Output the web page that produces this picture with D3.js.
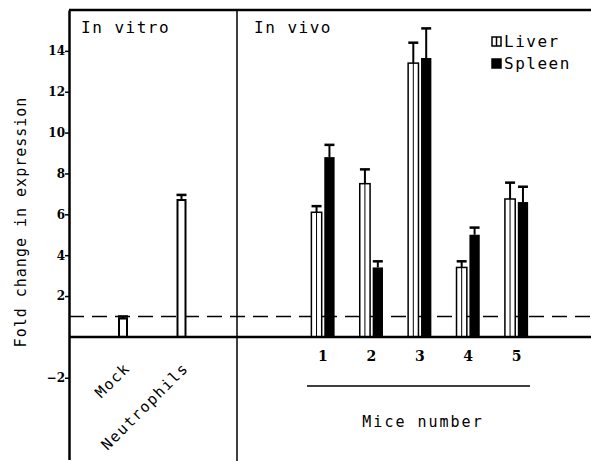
<!DOCTYPE html>
<html>
<head>
<meta charset="utf-8">
<script src="https://cdn.jsdelivr.net/npm/d3@7"></script>
<style>
body{margin:0;background:#fff;}
text{font-family:"DejaVu Sans Mono",monospace;}
</style>
</head>
<body>
<div id="chart"></div>
<script>
// values
var vitroCats = ["Mock", "Neutrophils"];
var vitroVals = [0.9, 6.7];
var vitroErr = [0.1, 0.25];

var mice = ["1", "2", "3", "4", "5"];
var liverVals = [6.1, 7.5, 13.4, 3.4, 6.75];
var liverErr = [0.3, 0.7, 1.0, 0.3, 0.8];
var spleenVals = [8.8, 3.4, 13.65, 5.0, 6.6];
var spleenErr = [0.6, 0.3, 1.45, 0.35, 0.75];

var yTicks = [14, 12, 10, 8, 6, 4, 2, -2];

function init(){
    var w = 591, h = 461;
    var svg = d3.select("#chart").append("svg")
                .attr("width", w).attr("height", h);

    var y = d3.scaleLinear().domain([-6, 16]).range([459.5, 10]);
    var axisX = 69, divX = 237;

    // in vitro x (bar centres)
    var xVitro = d3.scalePoint().domain(vitroCats).range([123, 181.5]);
    // in vivo x
    var xVivo = d3.scaleBand().domain(mice).range([298.8, 540.7])
                    .paddingInner(0.52).paddingOuter(0.26);
    var xSub = d3.scaleBand().domain(["liver", "spleen"]).range([0, xVivo.bandwidth()]).paddingInner(0.2);

    // dashed baseline at 1
    svg.append("line")
        .attr("x1", axisX).attr("x2", w)
        .attr("y1", y(1)).attr("y2", y(1))
        .attr("stroke", "#000").attr("stroke-width", 1.3)
        .attr("stroke-dasharray", "15,8");

    // vitro bars
    svg.selectAll(".vb").data(vitroVals).enter().append("rect")
        .attr("x", (d,i)=>xVitro(vitroCats[i]) - 4)
        .attr("width", 8)
        .attr("y", d=>y(d))
        .attr("height", d=>y(0)-y(d))
        .attr("fill", "#fff").attr("stroke", "#000").attr("stroke-width", 2);

    function errBar(cx, v, e){
        svg.append("line").attr("x1", cx).attr("x2", cx)
            .attr("y1", y(v)).attr("y2", y(v+e))
            .attr("stroke", "#000").attr("stroke-width", 2);
        svg.append("line").attr("x1", cx-5).attr("x2", cx+5)
            .attr("y1", y(v+e)).attr("y2", y(v+e))
            .attr("stroke", "#000").attr("stroke-width", 2.5);
    }
    vitroVals.forEach((v,i)=>errBar(xVitro(vitroCats[i]), v, vitroErr[i]));

    mice.forEach((m,i)=>{
        // liver bars (white, hatched)
        var x0 = xVivo(m) + xSub("liver");
        var bw = xSub.bandwidth();
        svg.append("rect")
            .attr("x", x0).attr("width", bw)
            .attr("y", y(liverVals[i])).attr("height", y(0)-y(liverVals[i]))
            .attr("fill", "#fff").attr("stroke", "#000").attr("stroke-width", 1.5);
        svg.append("line")
            .attr("x1", x0 + bw/2).attr("x2", x0 + bw/2)
            .attr("y1", y(liverVals[i])).attr("y2", y(0))
            .attr("stroke", "#000").attr("stroke-width", 1);
        errBar(x0 + bw/2, liverVals[i], liverErr[i]);

        // spleen bars (black)
        var x1 = xVivo(m) + xSub("spleen");
        svg.append("rect")
            .attr("x", x1).attr("width", xSub.bandwidth())
            .attr("y", y(spleenVals[i])).attr("height", y(0)-y(spleenVals[i]))
            .attr("fill", "#000");
        errBar(x1 + xSub.bandwidth()/2, spleenVals[i], spleenErr[i]);
    });

    // zero line
    svg.append("line")
        .attr("x1", axisX).attr("x2", w)
        .attr("y1", y(0)).attr("y2", y(0))
        .attr("stroke", "#000").attr("stroke-width", 2.5);

    // frame lines
    svg.append("line").attr("x1", axisX).attr("x2", w)
        .attr("y1", 10).attr("y2", 10)
        .attr("stroke", "#000").attr("stroke-width", 2.5);
    svg.append("line").attr("x1", divX).attr("x2", divX)
        .attr("y1", 10).attr("y2", h)
        .attr("stroke", "#000").attr("stroke-width", 1.5);

    // y axis
    var yAxis = d3.axisLeft(y).tickValues(yTicks).tickSize(4).tickSizeOuter(0);
    var ag = svg.append("g").attr("transform", "translate(" + axisX + ",0)").call(yAxis);
    ag.select(".domain").attr("stroke-width", 2.5);
    ag.selectAll(".tick line").attr("stroke-width", 1.5);
    ag.selectAll(".tick text")
        .style("font-family", "'DejaVu Serif', serif")
        .style("font-size", "12px").style("font-weight", "bold")
        .attr("x", -4);

    // y label
    svg.append("text")
        .attr("transform", "translate(26,222) rotate(-90)")
        .attr("text-anchor", "middle")
        .style("font-size", "15px").style("letter-spacing", "1px")
        .text("Fold change in expression");

    // panel titles
    svg.append("text").attr("x", 81).attr("y", 33)
        .style("font-size", "16px").style("letter-spacing", "1.5px").text("In vitro");
    svg.append("text").attr("x", 254).attr("y", 33)
        .style("font-size", "16px").style("letter-spacing", "1.5px").text("In vivo");

    // vitro category labels
    vitroCats.forEach((c,i)=>{
        var cx = xVitro(c);
        svg.append("text")
            .attr("transform", "translate(" + (cx + 8) + ",369) rotate(-45)")
            .attr("text-anchor", "end")
            .style("font-size", "15px").style("letter-spacing", "1.5px")
            .text(c);
    });

    // mice numbers
    var xg = svg.append("g").attr("transform", "translate(0," + y(0) + ")")
        .call(d3.axisBottom(xVivo).tickSize(0));
    xg.select(".domain").remove();
    xg.selectAll("text")
        .attr("y", 14)
        .style("font-family", "'DejaVu Serif', serif")
        .style("font-size", "14px").style("font-weight", "bold");

    svg.append("line").attr("x1", 307).attr("x2", 530)
        .attr("y1", 386).attr("y2", 386)
        .attr("stroke", "#000").attr("stroke-width", 1.5);
    svg.append("text").attr("x", 423).attr("y", 427)
        .attr("text-anchor", "middle")
        .style("font-size", "15px").style("letter-spacing", "2px")
        .text("Mice number");

    // legend
    var legend = svg.append("g").attr("transform", "translate(492,37)");
    var lk = [["Liver", "#fff"], ["Spleen", "#000"]];
    lk.forEach((k,i)=>{
        legend.append("rect")
            .attr("x", 0).attr("y", i*22)
            .attr("width", 9).attr("height", 9)
            .attr("fill", k[1]).attr("stroke", "#000").attr("stroke-width", 1.5);
        if(i==0){
            legend.append("line").attr("x1", 4.5).attr("x2", 4.5)
                .attr("y1", 0).attr("y2", 9).attr("stroke", "#000").attr("stroke-width", 1.5);
        }
        legend.append("text")
            .attr("x", 12).attr("y", i*22 + 10)
            .style("font-size", "16px").style("letter-spacing", "1.5px")
            .text(k[0]);
    });
}
init();
</script>
</body>
</html>
